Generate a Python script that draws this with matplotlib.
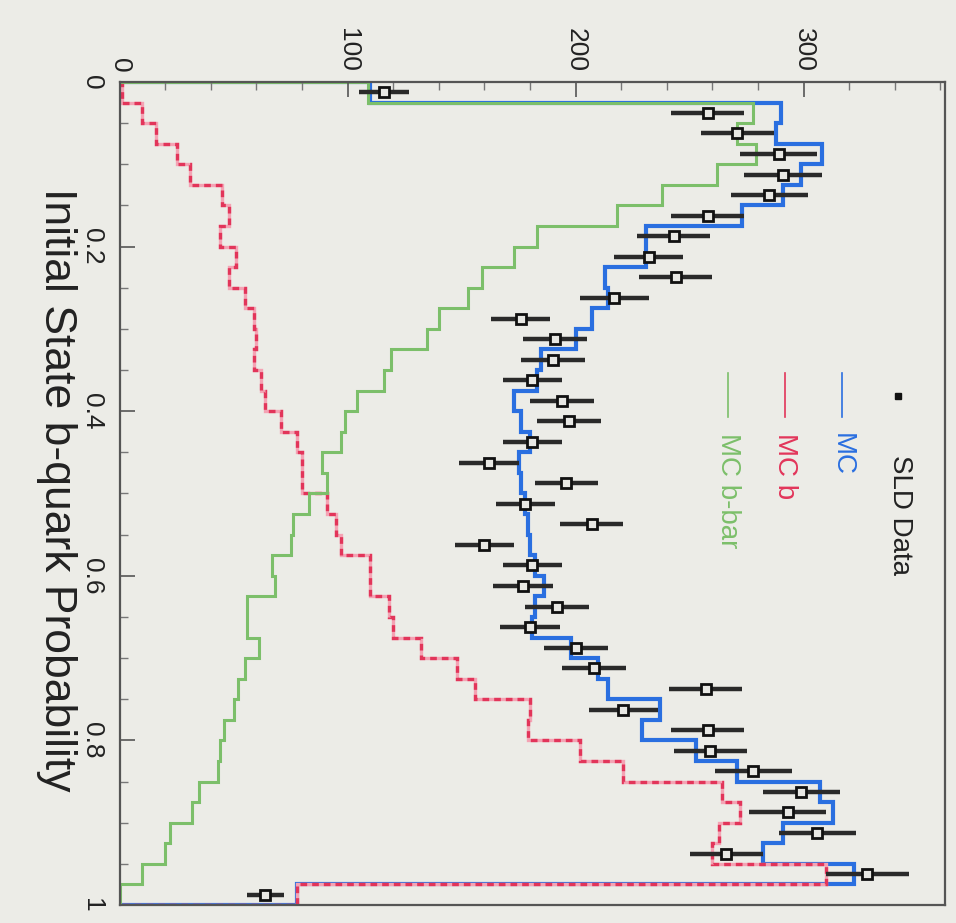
import numpy as np
import matplotlib
matplotlib.use('Agg')
import matplotlib.pyplot as plt
from matplotlib.ticker import MultipleLocator

plt.rcParams['font.family'] = ['Liberation Sans', 'DejaVu Sans']

# 40 bins in initial state b-quark probability (0..1)
edges = np.linspace(0.0, 1.0, 41)
centers = 0.5 * (edges[:-1] + edges[1:])

# SLD data (counts per bin) and error bars
sld_data = [116, 258, 271, 289, 291, 285, 258, 243, 232, 244,
            217, 176, 191, 190, 181, 194, 197, 181, 162, 196,
            178, 207, 160, 181, 177, 192, 180, 200, 208, 257,
            221, 258, 259, 278, 299, 293, 306, 266, 328, 64]
sld_err = [11, 16, 16, 17, 17, 17, 16, 16, 15, 16,
           15, 13, 14, 14, 13, 14, 14, 13, 13, 14,
           13, 14, 13, 13, 13, 14, 13, 14, 14, 16,
           15, 16, 16, 17, 17, 17, 17, 16, 18, 8]

# MC total, MC b, MC b-bar
mc_all = [110, 290, 288, 308, 299, 291, 273, 231, 231, 213,
          214, 207, 200, 185, 183, 173, 176, 180, 175, 176,
          178, 179, 180, 182, 186, 182, 181, 198, 210, 214,
          237, 229, 253, 271, 307, 313, 291, 282, 322, 78]
mc_b = [1, 10, 16, 25, 31, 45, 48, 44, 51, 48,
        55, 59, 60, 59, 62, 64, 71, 78, 80, 80,
        91, 95, 97, 110, 110, 118, 120, 132, 148, 156,
        180, 179, 202, 221, 264, 272, 263, 260, 310, 78]
mc_bbar = [109, 278, 271, 279, 262, 238, 218, 183, 173, 159,
           153, 140, 135, 119, 116, 104, 99, 97, 89, 91,
           83, 76, 75, 67, 68, 56, 56, 61, 55, 52,
           50, 46, 44, 43, 35, 32, 22, 20, 10, 0]

BG = '#ecece7'
BLUE = '#2a6fe0'
RED = '#e2355a'
PINK = '#f4a3b4'
GREEN = '#7cbf6a'

fig = plt.figure(figsize=(9.56, 9.23), dpi=100, facecolor=BG)
ax = fig.add_axes([0.125, 0.0195, 0.8635, 0.8917], facecolor=BG)

# histograms drawn sideways (the whole plot is turned by 90 degrees)
ax.stairs(mc_all, edges, orientation='horizontal', baseline=0, color=BLUE, lw=3.0)
ax.stairs(mc_b, edges, orientation='horizontal', baseline=0, color=PINK, lw=2.4)
ax.stairs(mc_b, edges, orientation='horizontal', baseline=0, color=RED, lw=2.4,
          linestyle=(0, (2, 1.5)))
ax.stairs(mc_bbar, edges, orientation='horizontal', baseline=0, color=GREEN, lw=2.2)

ax.errorbar(sld_data, centers, xerr=sld_err, fmt='s', ms=6.5, mfc='#e8e8e4',
            mec='#111111', mew=2, ecolor='#2a2a2a', elinewidth=3.2, capsize=0, zorder=5)

ax.set_xlim(0, 362)
ax.set_ylim(1, 0)

ax.xaxis.tick_top()
ax.xaxis.set_major_locator(MultipleLocator(100))
ax.xaxis.set_minor_locator(MultipleLocator(20))
ax.yaxis.set_major_locator(MultipleLocator(0.2))
ax.yaxis.set_minor_locator(MultipleLocator(0.05))
ax.yaxis.set_major_formatter(plt.FuncFormatter(lambda v, p: '%g' % v))

ax.tick_params(axis='both', which='major', direction='in', length=11, width=1.2,
               colors='#555555', labelcolor='#222222')
ax.tick_params(axis='both', which='minor', direction='in', length=6, width=1.0,
               colors='#777777')
ax.tick_params(axis='x', pad=7, labelrotation=-90, labelsize=19)
ax.tick_params(axis='y', pad=11, labelrotation=-90, labelsize=19)
for lbl in ax.get_yticklabels():
    lbl.set_va('center')

for s in ax.spines.values():
    s.set_color('#555555')
    s.set_linewidth(1.6)

# legend (hand placed, rotated)
ax.plot([0.943], [0.618], marker='s', ms=4, color='#111111', transform=ax.transAxes,
        clip_on=False)
ax.text(0.945, 0.547, 'SLD Data', rotation=-90, ha='center', va='top', fontsize=20,
        color='#222222', transform=ax.transAxes)
leg = [('MC', BLUE, 0.875), ('MC b', RED, 0.806), ('MC b-bar', GREEN, 0.737)]
for name, col, xf in leg:
    ax.plot([xf, xf], [0.646, 0.593], color=col, lw=1.2, transform=ax.transAxes)
    ax.text(xf, 0.573, name, rotation=-90, ha='center', va='top', fontsize=20,
            color=col, transform=ax.transAxes)

fig.text(56 / 956, 1 - 490 / 923, 'Initial State b-quark Probability', rotation=-90,
         ha='center', va='center', fontsize=32, color='#222222')

fig.savefig('out.png', dpi=100, facecolor=BG)
